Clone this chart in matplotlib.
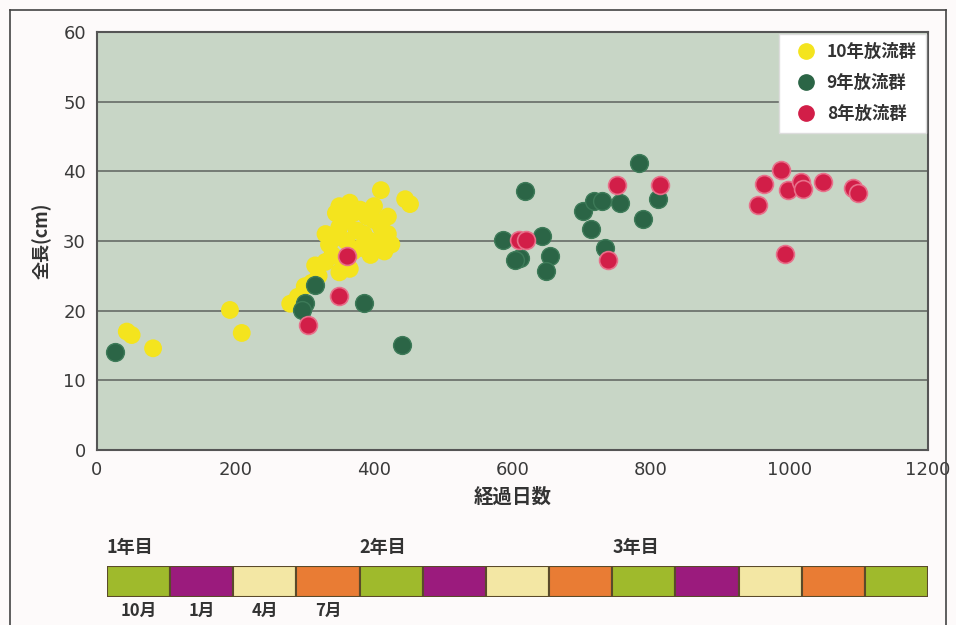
import matplotlib
matplotlib.use("Agg")
import matplotlib.pyplot as plt
from matplotlib.lines import Line2D
from matplotlib.patches import Rectangle

plt.rcParams['font.family'] = ['Noto Sans CJK JP', 'DejaVu Sans']

# ---- data ----
yellow_x = [43, 50, 81, 192, 209,
            279, 290, 300, 310, 320, 315, 330, 340, 335, 345, 350, 360, 370, 380,
            390, 400, 410, 420, 425, 415, 405, 395, 380, 370, 360, 355, 365, 350,
            375, 385, 395, 410, 420, 400, 365, 350, 345, 330, 410, 445, 452]
yellow_y = [17.0, 16.5, 14.6, 20.1, 16.8,
            21.0, 22.0, 23.5, 24.0, 25.0, 26.5, 27.0, 28.0, 29.5, 30.5, 32.0, 33.0, 34.0, 34.5,
            33.5, 33.0, 32.0, 31.0, 29.5, 28.5, 29.0, 30.0, 29.0, 28.5, 30.0, 27.0, 26.0, 25.5,
            31.5, 31.0, 28.0, 30.0, 33.5, 35.0, 35.5, 35.0, 34.0, 31.0, 37.3, 36.0, 35.3]

green_x = [26, 315, 300, 296, 385, 440,
           783, 618, 587, 642, 611, 604, 654, 649, 702, 717, 729, 714, 755, 789, 810, 734]
green_y = [14.0, 23.7, 21.1, 20.1, 21.1, 15.1,
           41.2, 37.2, 30.2, 30.7, 27.6, 27.3, 27.8, 25.7, 34.3, 35.7, 35.7, 31.7, 35.4, 33.2, 36.0, 29.0]

red_x = [361, 349, 305, 609, 619, 751, 813, 738,
         988, 963, 955, 998, 1017, 1020, 1049, 1092, 1099, 994]
red_y = [27.9, 22.1, 18.0, 30.2, 30.2, 38.1, 38.1, 27.3,
         40.2, 38.2, 35.1, 37.3, 38.4, 37.4, 38.5, 37.6, 36.9, 28.2]

series_labels = ['10年放流群', '9年放流群', '8年放流群']
xticks = [0, 200, 400, 600, 800, 1000, 1200]
yticks = [0, 10, 20, 30, 40, 50, 60]

season_colors = ['#9fba2c', '#9b1b7d', '#f3e7a4', '#e97c34']
n_segments = 13
year_labels = ['1年目', '2年目', '3年目']
year_starts = [0, 4, 8]
month_labels = ['10月', '1月', '4月', '7月']

# ---- figure ----
fig = plt.figure(figsize=(9.56, 6.25), dpi=100, facecolor='#fdfafa')

ax = fig.add_axes([97/956, 1 - 450/625, (928 - 97)/956, (450 - 32)/625])
ax.set_facecolor('#c8d6c6')
ax.set_xlim(0, 1200)
ax.set_ylim(0, 60)
ax.set_xticks(xticks)
ax.set_yticks(yticks)
ax.tick_params(length=0, labelsize=13, labelcolor='#3a3a3a', pad=8)
for lab in ax.get_xticklabels() + ax.get_yticklabels():
    lab.set_family('DejaVu Sans')
ax.yaxis.grid(True, color='#6e746e', lw=1.3)
ax.set_axisbelow(True)
for s in ax.spines.values():
    s.set_color('#555555')
    s.set_linewidth(1.5)

ms = 165
ax.scatter(yellow_x, yellow_y, s=ms, color='#f4e41e', edgecolors='none', zorder=3)
ax.scatter(green_x, green_y, s=ms, color='#2b6546', edgecolors='#3d7a58', lw=1, zorder=4)
ax.scatter(red_x, red_y, s=ms, color='#d21e48', edgecolors='#e8708a', lw=1.2, zorder=5)

handles = [Line2D([], [], marker='o', ls='', ms=11, color=c)
           for c in ['#f4e41e', '#2b6546', '#d21e48']]
leg = ax.legend(handles, series_labels, loc='upper right', fontsize=12.5,
                frameon=True, fancybox=False, framealpha=1, edgecolor='#dddddd',
                handletextpad=0.2, borderpad=0.55, labelspacing=0.75,
                borderaxespad=0.1)
for t in leg.get_texts():
    t.set_color('#333333')
    t.set_fontweight('bold')

ax.set_ylabel('全長(cm)', fontsize=13, color='#333333', labelpad=8, fontweight='bold')
ax.set_xlabel('経過日数', fontsize=14, color='#333333', labelpad=6, fontweight='bold')

# ---- season bar ----
bx = fig.add_axes([107/956, 1 - 597/625, (928 - 107)/956, 31/625])
bx.set_xlim(0, n_segments)
bx.set_ylim(0, 1)
bx.axis('off')
for i in range(n_segments):
    bx.add_patch(Rectangle((i, 0), 1, 1, facecolor=season_colors[i % 4],
                           edgecolor='#5a4a2a', lw=1.5))
for lab, st in zip(year_labels, year_starts):
    bx.text(st, 1.3, lab, ha='left', va='bottom', fontsize=13,
            color='#333333', fontweight='bold')
for i, lab in enumerate(month_labels):
    bx.text(i + 0.5, -0.15, lab, ha='center', va='top', fontsize=12,
            color='#333333', fontweight='bold')

# ---- outer frame ----
fig.add_artist(Line2D([10/956, 10/956], [0, 1 - 10/625], color='#444444', lw=1.2))
fig.add_artist(Line2D([10/956, 946/956], [1 - 10/625, 1 - 10/625], color='#444444', lw=1.2))
fig.add_artist(Line2D([946/956, 946/956], [0, 1 - 10/625], color='#444444', lw=1.2))

fig.savefig('out.png', dpi=100, facecolor=fig.get_facecolor())
